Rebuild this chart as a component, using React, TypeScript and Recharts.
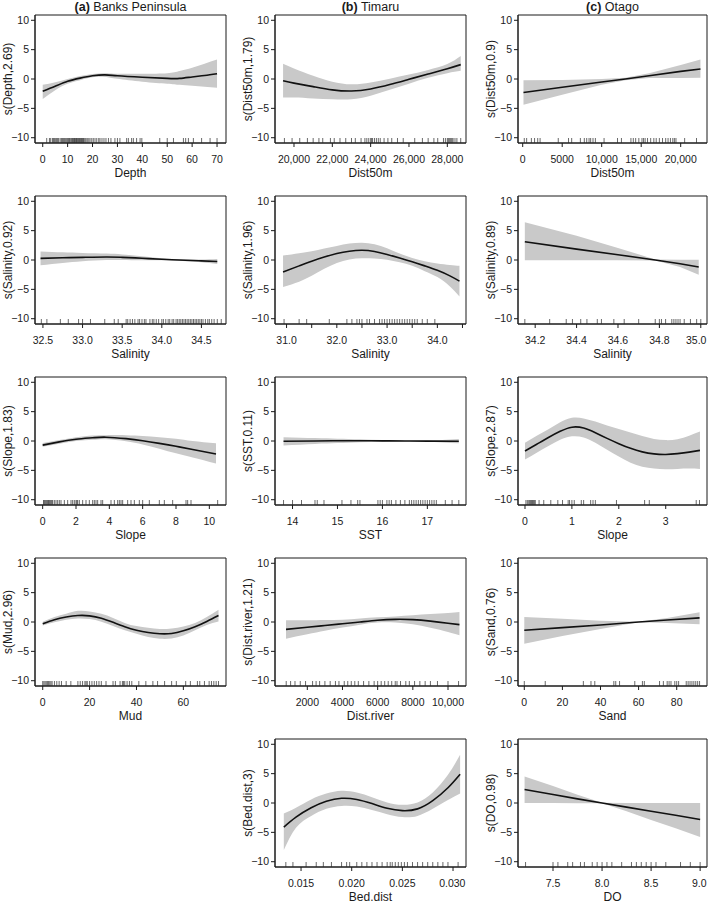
import React from "react"
import {
  ComposedChart, Area, Line, Scatter, XAxis, YAxis, ReferenceArea,
} from "recharts"

const FONT = '"Liberation Sans", Arial, Helvetica, sans-serif'
const INK = "#1a1a1a"
const BAND = "#c9c9c9"

const Y_DOMAIN: [number, number] = [-10.9, 10.9]
const Y_TICKS = [-10, -5, 0, 5, 10]

// panel grid (plot box edges)
const COL_LEFT = [35, 275, 518]
const COL_WIDTH = [191, 191, 189]
const ROW_TOP = [15, 196, 377, 558, 739]
const BOX_H = 128

// ---- (a) Banks Peninsula ----
const bpDepthX = [0, 5, 10, 15, 20, 25, 30, 40, 50, 55, 60, 65, 70]
const bpDepthFit = [-2.1, -1.25, -0.4, 0.15, 0.55, 0.7, 0.55, 0.3, 0.1, 0.1, 0.35, 0.6, 0.9]
const bpDepthHi = [-1.0, -0.55, 0.0, 0.5, 0.85, 1.0, 0.9, 0.9, 1.0, 1.35, 1.9, 2.6, 3.3]
const bpDepthLo = [-3.4, -1.9, -0.8, -0.2, 0.3, 0.35, 0.05, -0.45, -0.8, -1.0, -1.15, -1.3, -1.5]
const bpDepthRug = [1.6, 2.7, 3.2, 3.9, 4.3, 4.7, 5.2, 5.6, 6, 6.4, 7, 7.5, 7.9, 8.3, 8.7, 9.1, 9.6, 10, 10.4, 10.7, 11, 11.4, 11.7, 12, 12.3, 12.6, 12.8, 13.1, 13.4, 13.6, 13.9, 14.2, 14.5, 14.7, 15, 15.3, 15.5, 15.8, 16.1, 16.3, 16.6, 17, 17.4, 17.9, 18.5, 19, 19.7, 20.3, 21, 21.7, 22.5, 23, 23.8, 24.6, 25.4, 26.4, 27.4, 29, 30, 31, 33.7, 34.4, 35.7, 36.4, 37.7, 39.1, 39.8, 47, 50, 52.5, 56.5, 57.4, 58.5, 60.5, 63.8, 67.2, 70]

const bpSalX = [32.47, 32.75, 33.0, 33.3, 33.5, 33.75, 34.0, 34.3, 34.5, 34.7]
const bpSalFit = [0.28, 0.38, 0.45, 0.52, 0.45, 0.3, 0.12, -0.05, -0.15, -0.25]
const bpSalHi = [1.45, 1.3, 1.2, 1.1, 0.95, 0.65, 0.3, 0.1, 0.08, 0.17]
const bpSalLo = [-0.9, -0.5, -0.2, 0.0, 0.0, -0.05, -0.05, -0.2, -0.4, -0.7]
const bpSalRug = [32.48, 32.55, 32.72, 32.82, 32.95, 33.0, 33.1, 33.28, 33.4, 33.45, 33.55, 33.57, 33.6, 33.63, 33.66, 33.7, 33.72, 33.75, 33.78, 33.8, 33.85, 33.88, 33.9, 33.93, 33.96, 34.0, 34.02, 34.05, 34.08, 34.1, 34.13, 34.15, 34.18, 34.2, 34.22, 34.24, 34.26, 34.28, 34.3, 34.32, 34.34, 34.36, 34.38, 34.4, 34.42, 34.44, 34.46, 34.48, 34.5, 34.52, 34.55, 34.58, 34.6, 34.63, 34.66, 34.7, 34.75]

const bpSlopeX = [0, 1, 2, 3, 3.8, 5, 6, 7, 8, 9, 10.4]
const bpSlopeFit = [-0.7, -0.15, 0.3, 0.55, 0.65, 0.4, 0.05, -0.4, -0.9, -1.45, -2.2]
const bpSlopeHi = [-0.35, 0.15, 0.65, 0.95, 1.0, 1.0, 0.85, 0.65, 0.4, 0.0, -0.4]
const bpSlopeLo = [-1.0, -0.45, 0.0, 0.2, 0.3, -0.05, -0.6, -1.3, -2.1, -2.8, -3.85]
const bpSlopeRug = [0.05, 0.1, 0.15, 0.2, 0.25, 0.3, 0.35, 0.4, 0.45, 0.5, 0.55, 0.6, 0.7, 0.8, 0.9, 1.0, 1.1, 1.3, 1.5, 1.7, 1.8, 1.9, 2.0, 2.05, 2.1, 2.2, 2.4, 2.6, 2.8, 3.0, 3.1, 3.2, 3.3, 3.5, 3.6, 4.1, 4.3, 4.5, 4.6, 4.7, 4.8, 5.1, 5.3, 5.5, 5.8, 6.0, 6.4, 7.0, 7.3, 7.8, 8.6, 8.7, 8.9, 10.5]

const bpMudX = [0, 5, 10, 15, 20, 25, 30, 35, 40, 45, 50, 55, 60, 65, 70, 75]
const bpMudFit = [-0.3, 0.4, 0.85, 1.1, 1.05, 0.65, -0.05, -0.8, -1.4, -1.8, -2.0, -1.95, -1.5, -0.8, 0.1, 1.1]
const bpMudHi = [0.05, 0.85, 1.4, 1.9, 1.8, 1.4, 0.7, -0.15, -0.7, -1.0, -1.2, -1.1, -0.75, -0.15, 0.85, 2.1]
const bpMudLo = [-0.6, -0.05, 0.4, 0.6, 0.5, 0.05, -0.7, -1.4, -2.0, -2.55, -2.85, -2.8, -2.3, -1.4, -0.5, 0.1]
const bpMudRug = [0, 0.5, 1, 1.5, 2, 2.5, 3, 3.5, 4, 5, 6, 7, 8, 10, 12, 15, 16, 17, 18, 18.5, 19, 20, 21, 22, 23, 24, 25, 27, 30, 31, 33, 34, 34.5, 35, 36, 37, 38, 41, 44, 47, 49, 52, 55, 57, 61, 63, 66, 67, 69, 71, 72, 73, 74, 75]

// ---- (b) Timaru ----
const tmDistX = [19430, 20000, 21000, 22000, 23000, 24000, 25000, 26000, 27000, 28000, 28700]
const tmDistFit = [-0.3, -0.7, -1.3, -1.85, -2.05, -1.7, -0.95, -0.05, 0.85, 1.75, 2.45]
const tmDistHi = [2.6, 1.8, 0.55, -0.45, -0.9, -0.6, 0.05, 0.75, 1.55, 2.55, 3.9]
const tmDistLo = [-3.15, -3.15, -3.3, -3.45, -3.45, -2.85, -1.85, -0.8, 0.2, 1.0, 1.4]
const tmDistRug = [19500, 19900, 20300, 20700, 21000, 21300, 21500, 21900, 22100, 22400, 22700, 23000, 23200, 23500, 23700, 23800, 23900, 24000, 24050, 24100, 24200, 24300, 24400, 24500, 24700, 24900, 25100, 25400, 25700, 26300, 26700, 27000, 27300, 27500, 27800, 27900, 28000, 28050, 28100, 28150, 28200, 28250, 28300, 28400, 28500, 28700]

const tmSalX = [30.93, 31.25, 31.5, 31.75, 32.0, 32.25, 32.5, 32.75, 33.0, 33.25, 33.5, 33.75, 34.0, 34.25, 34.44]
const tmSalFit = [-2.05, -1.0, -0.2, 0.5, 1.1, 1.5, 1.65, 1.45, 0.95, 0.35, -0.3, -1.0, -1.75, -2.7, -3.6]
const tmSalHi = [0.75, 1.15, 1.5, 1.95, 2.4, 2.8, 2.95, 2.7, 2.0, 1.1, 0.35, -0.2, -0.6, -0.85, -1.0]
const tmSalLo = [-4.6, -3.7, -2.7, -1.5, -0.5, 0.1, 0.3, 0.25, 0.05, -0.4, -1.0, -1.9, -2.9, -4.5, -6.2]
const tmSalRug = [30.95, 31.25, 31.4, 31.85, 32.2, 32.3, 32.4, 32.45, 32.5, 32.6, 32.65, 32.75, 32.85, 32.9, 32.95, 33.0, 33.05, 33.1, 33.15, 33.2, 33.25, 33.3, 33.35, 33.4, 33.45, 33.5, 33.55, 33.6, 33.7, 33.8, 33.95]

const tmSstX = [13.8, 14.5, 15, 15.5, 16, 16.5, 17, 17.7]
const tmSstFit = [-0.05, 0.0, 0.05, 0.05, 0.02, 0.0, -0.02, -0.05]
const tmSstHi = [0.65, 0.5, 0.4, 0.3, 0.15, 0.1, 0.1, 0.35]
const tmSstLo = [-0.75, -0.5, -0.35, -0.2, -0.12, -0.1, -0.12, -0.4]
const tmSstRug = [13.8, 14.0, 14.2, 14.5, 14.55, 14.7, 15.1, 15.3, 15.45, 15.5, 15.9, 15.95, 16.0, 16.1, 16.15, 16.2, 16.3, 16.4, 16.5, 16.6, 16.65, 16.7, 16.75, 16.8, 16.85, 16.9, 16.95, 17.0, 17.05, 17.1, 17.15, 17.2, 17.4, 17.55, 17.7]

const tmRiverX = [790, 2000, 3000, 4000, 5000, 6000, 7000, 8000, 9000, 10000, 10650]
const tmRiverFit = [-1.25, -0.9, -0.6, -0.3, 0.0, 0.3, 0.45, 0.4, 0.15, -0.2, -0.45]
const tmRiverHi = [0.3, 0.3, 0.35, 0.4, 0.6, 0.8, 0.95, 1.15, 1.35, 1.55, 1.7]
const tmRiverLo = [-2.85, -2.1, -1.5, -0.95, -0.45, -0.1, -0.1, -0.4, -1.0, -1.7, -2.25]
const tmRiverRug = [800, 1050, 1300, 1600, 1900, 2300, 2500, 2700, 3000, 3300, 3600, 3800, 4100, 4300, 4500, 4700, 4900, 5200, 5500, 5800, 6000, 6200, 6400, 6600, 6800, 7000, 7100, 7300, 7600, 7800, 8100, 8400, 8700, 9000, 9400, 10000, 10600]

const tmBedX = [0.0133, 0.0145, 0.016, 0.0175, 0.019, 0.0205, 0.022, 0.0235, 0.025, 0.0265, 0.028, 0.0295, 0.0307]
const tmBedFit = [-4.1, -2.4, -0.8, 0.3, 0.8, 0.6, -0.1, -0.9, -1.3, -1.0, 0.4, 2.6, 4.9]
const tmBedHi = [-1.8, -0.8, 0.6, 1.6, 2.1, 1.8, 1.0, 0.1, -0.3, 0.1, 1.8, 4.8, 8.2]
const tmBedLo = [-8.0, -4.2, -2.2, -1.0, -0.5, -0.6, -1.2, -1.9, -2.4, -2.2, -1.0, 0.5, 1.6]
const tmBedRug = [0.0135, 0.0142, 0.0155, 0.0165, 0.0172, 0.018, 0.019, 0.0195, 0.0198, 0.0205, 0.021, 0.0215, 0.022, 0.0225, 0.023, 0.0235, 0.0238, 0.024, 0.0243, 0.0246, 0.0249, 0.0252, 0.0255, 0.026, 0.0265, 0.027, 0.0275, 0.028, 0.0285, 0.029, 0.0295, 0.0305]

// ---- (c) Otago ----
const otDistX = [100, 5000, 10000, 13000, 16000, 20000, 22500]
const otDistFit = [-2.3, -1.4, -0.5, 0.0, 0.55, 1.3, 1.7]
const otDistHi = [-0.2, -0.15, 0.0, 0.2, 1.0, 2.4, 3.3]
const otDistLo = [-4.4, -2.7, -1.0, -0.2, 0.15, 0.18, 0.2]
const otDistRug = [200, 500, 1100, 1500, 1900, 2200, 4500, 5800, 6200, 7300, 7800, 8100, 8400, 8600, 8900, 9200, 10300, 12000, 12500, 13700, 14000, 14300, 14700, 15100, 15300, 15500, 15800, 16200, 16600, 16900, 17300, 17700, 18100, 18400, 18700, 19000, 19200, 19400, 20500, 22000]

const otSalX = [34.15, 34.4, 34.6, 34.78, 34.9, 34.99]
const otSalFit = [3.1, 1.85, 0.9, 0.0, -0.65, -1.2]
const otSalHi = [6.45, 4.15, 2.05, 0.1, 0.05, 0.05]
const otSalLo = [-0.05, -0.05, -0.05, -0.1, -1.2, -2.5]
const otSalRug = [34.15, 34.27, 34.35, 34.38, 34.42, 34.45, 34.5, 34.52, 34.58, 34.63, 34.7, 34.78, 34.8, 34.81, 34.83, 34.86, 34.87, 34.88, 34.89, 34.9, 34.92, 34.95, 34.98, 35.0]

const otSlopeX = [0, 0.25, 0.5, 0.75, 1.0, 1.25, 1.5, 1.75, 2.0, 2.25, 2.5, 2.75, 3.0, 3.25, 3.5, 3.73]
const otSlopeFit = [-1.7, -0.55, 0.6, 1.65, 2.35, 2.2, 1.4, 0.45, -0.45, -1.25, -1.85, -2.2, -2.3, -2.15, -1.9, -1.6]
const otSlopeHi = [-0.3, 0.9, 2.0, 3.2, 3.95, 3.85, 3.3, 2.65, 2.05, 1.45, 0.85, 0.35, 0.15, 0.3, 0.9, 1.6]
const otSlopeLo = [-3.15, -2.0, -0.85, 0.2, 0.8, 0.6, -0.3, -1.5, -2.65, -3.7, -4.4, -4.7, -4.8, -4.75, -4.7, -4.75]
const otSlopeRug = [0.02, 0.05, 0.08, 0.1, 0.12, 0.14, 0.16, 0.18, 0.2, 0.22, 0.3, 0.4, 0.55, 0.7, 0.8, 0.92, 0.95, 1.0, 1.05, 1.2, 1.25, 1.4, 1.45, 1.5, 1.95, 2.55, 2.65, 3.65, 3.72]

const otSandX = [0, 20, 40, 60, 75, 92]
const otSandFit = [-1.4, -0.95, -0.5, 0.0, 0.35, 0.7]
const otSandHi = [0.85, 0.55, 0.2, 0.05, 0.7, 1.65]
const otSandLo = [-3.7, -2.4, -1.2, -0.05, -0.15, -0.4]
const otSandRug = [0, 11, 31, 35, 37, 47, 48, 50, 58, 62, 63, 71, 73, 75, 76, 77, 79, 80, 81, 85, 86, 87, 88, 89, 90, 91, 92]

const otDoX = [7.21, 7.5, 7.75, 8.0, 8.25, 8.5, 8.75, 9.0]
const otDoFit = [2.3, 1.45, 0.7, 0.0, -0.7, -1.4, -2.1, -2.8]
const otDoHi = [4.5, 2.9, 1.4, 0.05, 0.0, 0.0, 0.0, 0.0]
const otDoLo = [0.0, 0.0, -0.05, -0.05, -1.4, -2.9, -4.3, -5.8]
const otDoRug = [7.22, 7.5, 7.55, 7.65, 7.7, 7.78, 7.82, 7.9, 7.95, 8.0, 8.05, 8.1, 8.2, 8.3, 8.35, 8.4, 8.45, 8.5, 8.55, 8.65, 8.8, 8.9, 9.0]

// tick label formatters
const plain = (v: number) => String(v)
const oneDp = (v: number) => v.toFixed(1)
const threeDp = (v: number) => v.toFixed(3)
const wholeOnly = (v: number) => (Number.isInteger(v) ? v.toFixed(1) : "")
const bigNum = (v: number) => (v >= 10000 ? v.toLocaleString("en-US") : String(v))
const yFmt = (v: number) => (v < 0 ? "\u2212" + Math.abs(v) : String(v))

const TICK_FS = 10.5

const RugTick = (p: any) => (
  <line x1={p.cx} x2={p.cx} y1={p.cy} y2={p.cy - 5} stroke="#2a2a2a" strokeWidth={0.7} />
)

// x tick label, pulled back in if it would run past the chart edge
function XTick({ x, y, payload, fmt, maxX }: any) {
  const s = fmt(payload.value)
  const half = s.length * TICK_FS * 0.28
  const cx = Math.min(x, maxX - half)
  return (
    <text x={cx} y={y} dy="0.71em" textAnchor="middle" fontSize={TICK_FS} fill={INK} fontFamily={FONT}>
      {s}
    </text>
  )
}

type PanelProps = {
  col: number
  row: number
  yLabel: string
  xLabel: string
  domain: [number, number]
  ticks: number[]
  fmt: (v: number) => string
  curve?: "natural" | "linear"
  xs: number[]
  fit: number[]
  lo: number[]
  hi: number[]
  rug: number[]
}

function Panel({ col, row, yLabel, xLabel, domain, ticks, fmt, curve = "natural", xs, fit, lo, hi, rug }: PanelProps) {
  const rows = xs.map((x, i) => ({ x, fit: fit[i], band: [lo[i], hi[i]] }))
  const rugRows = rug.map((x) => ({ x, y: Y_DOMAIN[0] }))
  const w = COL_WIDTH[col]
  const chartW = w + 37
  const tickStyle = { fontSize: TICK_FS, fill: INK, fontFamily: FONT }
  const labelStyle = { fontSize: 12, fill: INK, fontFamily: FONT, textAnchor: "middle" as const }

  return (
    <div style={{ position: "absolute", left: COL_LEFT[col] - 35, top: ROW_TOP[row] - 2 }}>
      <ComposedChart
        width={chartW}
        height={BOX_H + 40}
        data={rows}
        margin={{ top: 2, right: 2, bottom: 0, left: 0 }}
      >
        <XAxis
          type="number"
          dataKey="x"
          domain={domain}
          ticks={ticks}
          allowDataOverflow
          interval={0}
          tick={(p: any) => <XTick {...p} fmt={fmt} maxX={chartW - 1} />}
          tickSize={4}
          tickMargin={9}
          stroke={INK}
          height={38}
          label={{ value: xLabel, position: "insideBottom", offset: 4, style: labelStyle }}
        />
        <YAxis
          type="number"
          domain={Y_DOMAIN}
          ticks={Y_TICKS}
          allowDataOverflow
          interval={0}
          tickFormatter={yFmt}
          tick={tickStyle}
          tickSize={4}
          tickMargin={2}
          stroke={INK}
          width={35}
          label={{ value: yLabel, angle: -90, position: "insideLeft", offset: 8, style: labelStyle }}
        />
        <Area
          dataKey="band"
          type={curve}
          fill={BAND}
          fillOpacity={1}
          stroke="none"
          activeDot={false}
          isAnimationActive={false}
        />
        <Line
          dataKey="fit"
          type={curve}
          stroke="#111"
          strokeWidth={1.6}
          dot={false}
          activeDot={false}
          isAnimationActive={false}
        />
        <Scatter data={rugRows} dataKey="y" shape={RugTick} isAnimationActive={false} />
        <ReferenceArea
          x1={domain[0]}
          x2={domain[1]}
          y1={Y_DOMAIN[0]}
          y2={Y_DOMAIN[1]}
          fill="none"
          fillOpacity={0}
          stroke={INK}
          strokeWidth={1}
          ifOverflow="visible"
        />
      </ComposedChart>
    </div>
  )
}

function ColTitle({ col, tag, name }: { col: number; tag: string; name: string }) {
  return (
    <div
      style={{
        position: "absolute",
        left: COL_LEFT[col],
        top: 0,
        width: COL_WIDTH[col],
        textAlign: "center",
        fontSize: 12.5,
        lineHeight: "14px",
        fontFamily: FONT,
        color: INK,
      }}
    >
      <b>{tag}</b> {name}
    </div>
  )
}

export default function App() {
  return (
    <div
      style={{
        position: "absolute",
        left: 0,
        top: 0,
        width: 709,
        height: 904,
        background: "#fff",
        fontFamily: FONT,
      }}
    >
      <ColTitle col={0} tag="(a)" name="Banks Peninsula" />
      <ColTitle col={1} tag="(b)" name="Timaru" />
      <ColTitle col={2} tag="(c)" name="Otago" />

      <Panel col={0} row={0} yLabel="s(Depth,2.69)" xLabel="Depth" domain={[-3.1, 73.6]}
        ticks={[0, 10, 20, 30, 40, 50, 60, 70]} fmt={plain}
        xs={bpDepthX} fit={bpDepthFit} lo={bpDepthLo} hi={bpDepthHi} rug={bpDepthRug} />
      <Panel col={0} row={1} yLabel="s(Salinity,0.92)" xLabel="Salinity" domain={[32.4, 34.81]}
        ticks={[32.5, 33, 33.5, 34, 34.5]} fmt={oneDp}
        xs={bpSalX} fit={bpSalFit} lo={bpSalLo} hi={bpSalHi} rug={bpSalRug} />
      <Panel col={0} row={2} yLabel="s(Slope,1.83)" xLabel="Slope" domain={[-0.46, 11.0]}
        ticks={[0, 2, 4, 6, 8, 10]} fmt={plain}
        xs={bpSlopeX} fit={bpSlopeFit} lo={bpSlopeLo} hi={bpSlopeHi} rug={bpSlopeRug} />
      <Panel col={0} row={3} yLabel="s(Mud,2.96)" xLabel="Mud" domain={[-3.3, 78.2]}
        ticks={[0, 20, 40, 60]} fmt={plain}
        xs={bpMudX} fit={bpMudFit} lo={bpMudLo} hi={bpMudHi} rug={bpMudRug} />

      <Panel col={1} row={0} yLabel="s(Dist50m,1.79)" xLabel="Dist50m" domain={[19009, 28975]}
        ticks={[20000, 22000, 24000, 26000, 28000]} fmt={bigNum}
        xs={tmDistX} fit={tmDistFit} lo={tmDistLo} hi={tmDistHi} rug={tmDistRug} />
      <Panel col={1} row={1} yLabel="s(Salinity,1.96)" xLabel="Salinity" domain={[30.77, 34.57]}
        ticks={[31, 31.5, 32, 32.5, 33, 33.5, 34, 34.5]} fmt={wholeOnly}
        xs={tmSalX} fit={tmSalFit} lo={tmSalLo} hi={tmSalHi} rug={tmSalRug} />
      <Panel col={1} row={2} yLabel="s(SST,0.11)" xLabel="SST" domain={[13.61, 17.86]}
        ticks={[14, 15, 16, 17]} fmt={plain}
        xs={tmSstX} fit={tmSstFit} lo={tmSstLo} hi={tmSstHi} rug={tmSstRug} />
      <Panel col={1} row={3} yLabel="s(Dist.river,1.21)" xLabel="Dist.river" domain={[163, 11023]}
        ticks={[2000, 4000, 6000, 8000, 10000]} fmt={bigNum}
        xs={tmRiverX} fit={tmRiverFit} lo={tmRiverLo} hi={tmRiverHi} rug={tmRiverRug} />
      <Panel col={1} row={4} yLabel="s(Bed.dist,3)" xLabel="Bed.dist" domain={[0.01243, 0.03128]}
        ticks={[0.015, 0.02, 0.025, 0.03]} fmt={threeDp}
        xs={tmBedX} fit={tmBedFit} lo={tmBedLo} hi={tmBedHi} rug={tmBedRug} />

      <Panel col={2} row={0} yLabel="s(Dist50m,0.9)" xLabel="Dist50m" domain={[-595, 23329]}
        ticks={[0, 5000, 10000, 15000, 20000]} fmt={bigNum} curve="linear"
        xs={otDistX} fit={otDistFit} lo={otDistLo} hi={otDistHi} rug={otDistRug} />
      <Panel col={2} row={1} yLabel="s(Salinity,0.89)" xLabel="Salinity" domain={[34.117, 35.03]}
        ticks={[34.2, 34.4, 34.6, 34.8, 35.0]} fmt={oneDp} curve="linear"
        xs={otSalX} fit={otSalFit} lo={otSalLo} hi={otSalHi} rug={otSalRug} />
      <Panel col={2} row={2} yLabel="s(Slope,2.87)" xLabel="Slope" domain={[-0.149, 3.88]}
        ticks={[0, 1, 2, 3]} fmt={plain}
        xs={otSlopeX} fit={otSlopeFit} lo={otSlopeLo} hi={otSlopeHi} rug={otSlopeRug} />
      <Panel col={2} row={3} yLabel="s(Sand,0.76)" xLabel="Sand" domain={[-3.3, 95.9]}
        ticks={[0, 20, 40, 60, 80]} fmt={plain} curve="linear"
        xs={otSandX} fit={otSandFit} lo={otSandLo} hi={otSandHi} rug={otSandRug} />
      <Panel col={2} row={4} yLabel="s(DO,0.98)" xLabel="DO" domain={[7.143, 9.07]}
        ticks={[7.5, 8, 8.5, 9]} fmt={oneDp} curve="linear"
        xs={otDoX} fit={otDoFit} lo={otDoLo} hi={otDoHi} rug={otDoRug} />
    </div>
  )
}
